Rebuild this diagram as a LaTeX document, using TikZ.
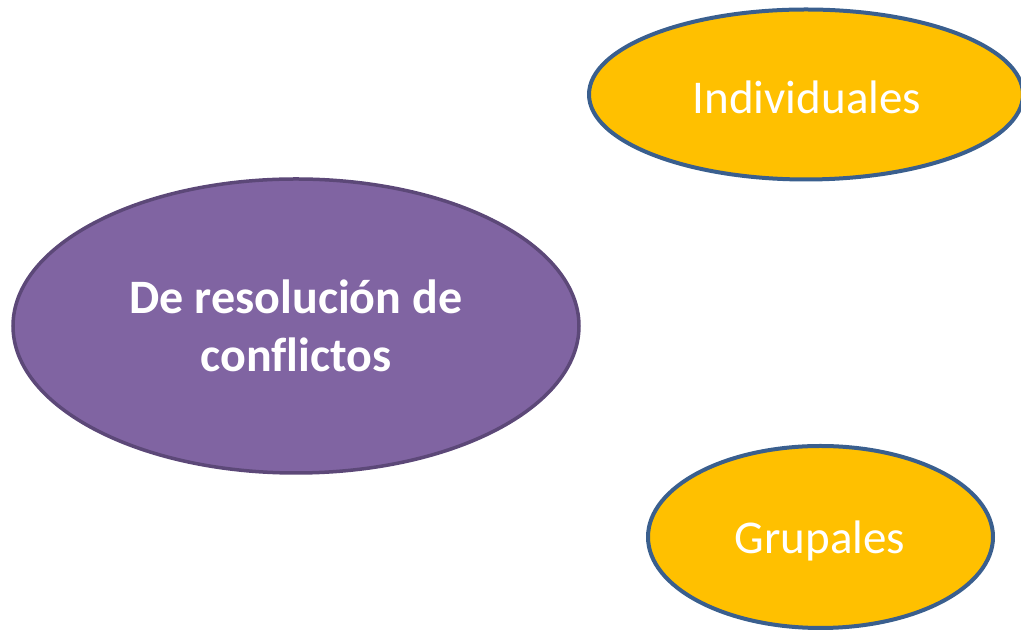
\documentclass[tikz,border=0pt]{standalone}
\usepackage{fontspec}
\setmainfont[Ligatures=NoCommon]{Carlito}
\usetikzlibrary{shapes.geometric}
\definecolor{purplefill}{HTML}{8064A2}
\definecolor{purpleline}{HTML}{5C4878}
\definecolor{goldfill}{HTML}{FFC000}
\definecolor{blueline}{HTML}{3A5F8E}
\tikzset{
  purpleoval/.style={ellipse, fill=purplefill, draw=purpleline, line width=3.5pt, inner sep=0pt},
  goldoval/.style={ellipse, fill=goldfill, draw=blueline, line width=4pt, inner sep=0pt},
  boldlbl/.style={text=white, align=center, font=\fontsize{48}{58}\selectfont\bfseries},
  plainlbl/.style={text=white, font=\fontsize{47}{56}\selectfont}
}
\begin{document}
\begin{tikzpicture}[x=1pt,y=1pt]
\useasboundingbox (0,0) rectangle (1021,631);
\clip (0,0) rectangle (1021,631);
\node[purpleoval, minimum width=566pt, minimum height=294pt] (conf) at (296,305) {};
\node[boldlbl] (conflbl) at (conf.center) {De resolución de\\conflictos};
\node[goldoval, minimum width=434pt, minimum height=170pt] (ind) at (806,536.5) {};
\node[plainlbl] (indlbl) at (807,534) {Individuales};
\node[goldoval, minimum width=345pt, minimum height=182pt] (grp) at (820.5,94) {};
\node[plainlbl] (grplbl) at (820,90) {Grupales};
\end{tikzpicture}
\end{document}
